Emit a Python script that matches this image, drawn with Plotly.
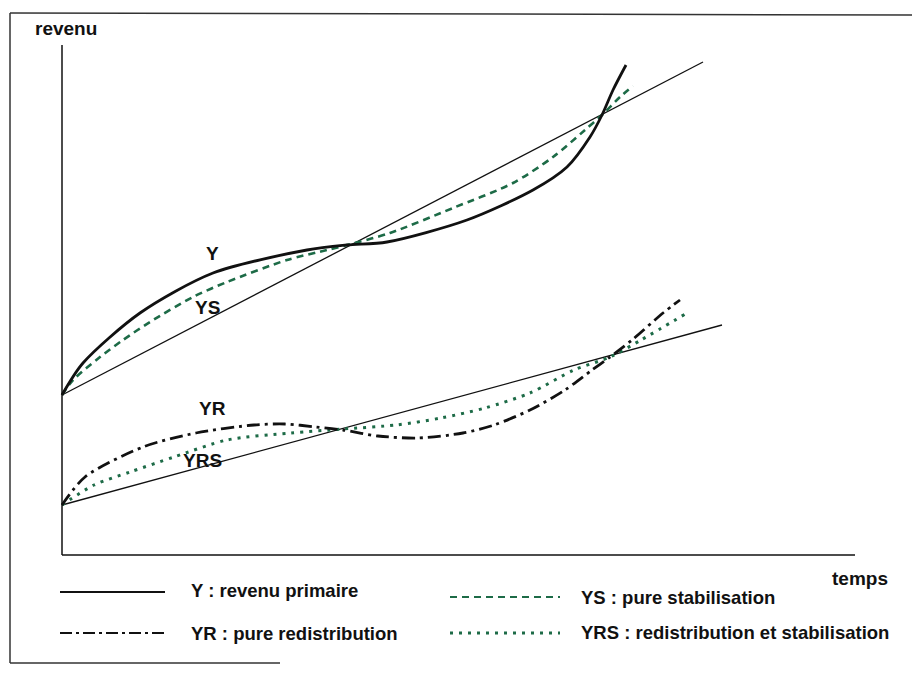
import plotly.graph_objects as go

# ---- data (time t, revenue r) ----
trend_up_t = [0, 641]
trend_up_r = [160, 493]

y_t = [0, 21, 78, 151, 245, 285, 325, 405, 471, 505, 528, 540, 551, 564]
y_r = [160, 192, 242, 282, 305, 310, 313, 335, 365, 388, 418, 440, 465, 490]

ys_t = [0, 11, 38, 61, 88, 131, 165, 225, 265, 285, 328, 391, 451, 491, 523, 541, 558, 571]
ys_r = [160, 175, 198, 215, 233, 258, 273, 295, 305, 310, 322, 347, 372, 398, 425, 441, 458, 469]

trend_lo_t = [0, 660]
trend_lo_r = [50, 230]

yr_t = [0, 23, 81, 134, 192, 223, 254, 281, 316, 356, 401, 432, 468, 503, 530, 548, 570, 601, 618]
yr_r = [50, 78, 108, 122, 130, 131, 128, 125, 119, 117, 122, 130, 145, 165, 185, 198, 215, 242, 255]

yrs_t = [0, 32, 68, 112, 165, 228, 281, 334, 379, 423, 468, 512, 548, 579, 625]
yrs_r = [50, 70, 83, 98, 115, 122, 126, 130, 137, 147, 162, 185, 198, 215, 242]

legend_labels = ["Y : revenu primaire", "YS : pure stabilisation",
                 "YR : pure redistribution", "YRS : redistribution et stabilisation"]
curve_labels = ["Y", "YS", "YR", "YRS"]

GREEN = "#1d6b47"
BLACK = "#111111"
FONT = "Liberation Sans, Arial, sans-serif"
FS = 19
FS_LEG = 18.5
W, H = 912, 676

fig = go.Figure()

def add(t, r, color, width, dash, shape="spline"):
    fig.add_trace(go.Scatter(x=t, y=r, mode="lines",
                             line=dict(color=color, width=width, dash=dash,
                                       shape=shape, smoothing=0.8),
                             showlegend=False, hoverinfo="skip"))

add(trend_up_t, trend_up_r, BLACK, 1.3, "solid", "linear")
add(trend_lo_t, trend_lo_r, BLACK, 1.3, "solid", "linear")
add(ys_t, ys_r, GREEN, 2.6, "7px,5px")
add(yrs_t, yrs_r, GREEN, 3, "3px,6px")
add(y_t, y_r, BLACK, 2.8, "solid")
add(yr_t, yr_r, BLACK, 2.8, "13px,5px,3px,5px")

# axes (drawn as lines in data space)
fig.add_shape(type="line", x0=0, y0=0, x1=0, y1=510, line=dict(color=BLACK, width=1.5))
fig.add_shape(type="line", x0=0, y0=0, x1=793, y1=0, line=dict(color=BLACK, width=1.5))

# frame of the page (paper coords from pixels)
def px(x, y):
    return x / W, 1 - y / H

for (xa, ya, xb, yb) in [(10, 13, 912, 15), (10, 13, 10, 663), (10, 663, 280, 663)]:
    x0, y0 = px(xa, ya)
    x1, y1 = px(xb, yb)
    fig.add_shape(type="line", xref="paper", yref="paper", x0=x0, y0=y0, x1=x1, y1=y1,
                  line=dict(color="#333333", width=1.5))

# legend samples (paper coordinates)
leg = [((60, 165, 592), BLACK, 2.2, "solid"),
       ((450, 560, 597), GREEN, 2.2, "7px,5px"),
       ((60, 165, 633), BLACK, 2.2, "12px,4px,3px,4px"),
       ((450, 560, 633), GREEN, 3, "3px,6px")]
for (xa, xb, yy), col, wd, ds in leg:
    x0, y0 = px(xa, yy)
    x1, _ = px(xb, yy)
    fig.add_shape(type="line", xref="paper", yref="paper", x0=x0, y0=y0, x1=x1, y1=y0,
                  line=dict(color=col, width=wd, dash=ds))

leg_text_pos = [(189, 590), (579, 597), (189, 633), (579, 632)]
for txt, (xx, yy) in zip(legend_labels, leg_text_pos):
    x0, y0 = px(xx, yy)
    fig.add_annotation(text=txt, xref="paper", yref="paper", x=x0, y=y0,
                       xanchor="left", yanchor="middle", showarrow=False,
                       font=dict(family=FONT, size=FS_LEG, color=BLACK, weight="bold"))

# curve labels and axis titles (data coordinates)
lab_pos = [(150, 302), (145, 248), (150, 147), (140, 95)]
for txt, (tx, ry) in zip(curve_labels, lab_pos):
    fig.add_annotation(text=txt, x=tx, y=ry, showarrow=False,
                       font=dict(family=FONT, size=FS, color=BLACK, weight="bold"))
fig.add_annotation(text="revenu", x=-29, y=527, xanchor="left", showarrow=False,
                   font=dict(family=FONT, size=FS, color=BLACK, weight="bold"))
fig.add_annotation(text="temps", x=768, y=-23, xanchor="left", showarrow=False,
                   font=dict(family=FONT, size=FS, color=BLACK, weight="bold"))

fig.update_layout(width=W, height=H, margin=dict(l=0, r=0, t=0, b=0),
                  paper_bgcolor="white", plot_bgcolor="white",
                  xaxis=dict(range=[-62, 850], visible=False),
                  yaxis=dict(range=[-121, 555], visible=False))

fig.write_html("out.html", config={"displayModeBar": False},
               post_script="document.body.style.margin='0';")
